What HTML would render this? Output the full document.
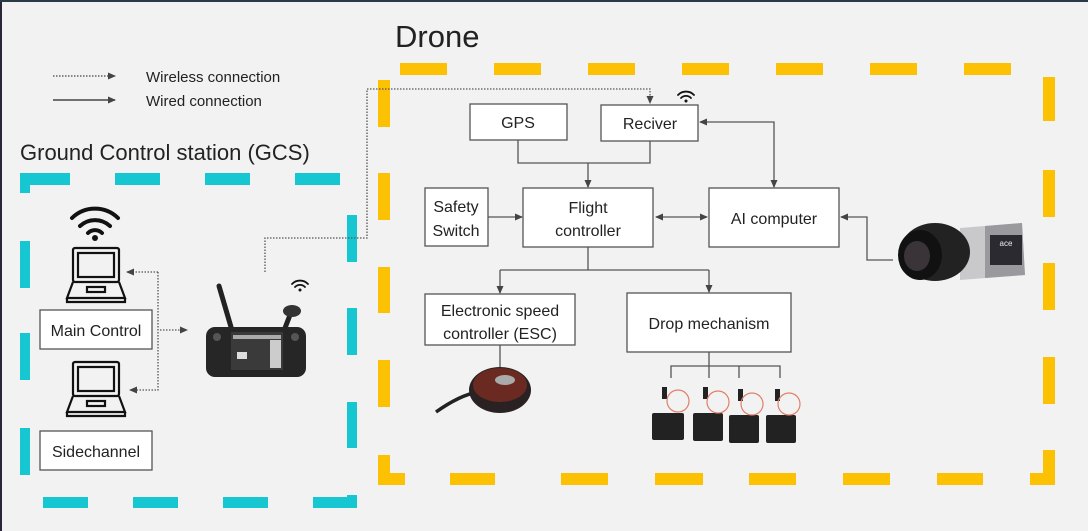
<!DOCTYPE html>
<html><head><meta charset="utf-8"><style>
html,body{margin:0;padding:0;background:#f2f2f2}
svg{display:block}
text{font-family:"Liberation Sans",sans-serif;fill:#222}
</style></head><body>
<svg width="1088" height="531" viewBox="0 0 1088 531" xmlns="http://www.w3.org/2000/svg">
<defs>
<marker id="ah" markerWidth="8" markerHeight="8" refX="7" refY="4" orient="auto" markerUnits="userSpaceOnUse"><path d="M0,0.5 L8,4 L0,7.5 z" fill="#444"/></marker>
<marker id="ahs" markerWidth="8" markerHeight="8" refX="1" refY="4" orient="auto" markerUnits="userSpaceOnUse"><path d="M8,0.5 L0,4 L8,7.5 z" fill="#444"/></marker>
</defs>
<rect x="0" y="0" width="1088" height="531" fill="#f2f2f2"/>
<rect x="0" y="0" width="2" height="531" fill="#2c2438"/>
<rect x="0" y="0" width="1088" height="2" fill="#2c3a48"/>

<!-- titles -->
<text x="395" y="47" font-size="31">Drone</text>
<text x="20" y="160" font-size="22">Ground Control station (GCS)</text>
<!-- legend -->
<line x1="53" y1="76" x2="115" y2="76" stroke="#444" stroke-width="1.3" stroke-dasharray="1.5,1.5" marker-end="url(#ah)"/>
<line x1="53" y1="100" x2="115" y2="100" stroke="#444" stroke-width="1.5" marker-end="url(#ah)"/>
<text x="146" y="82" font-size="15">Wireless connection</text>
<text x="146" y="106" font-size="15">Wired connection</text>

<!-- yellow dashes -->
<g fill="#fbc102">
<rect x="400" y="63" width="47" height="12"/><rect x="494" y="63" width="47" height="12"/><rect x="588" y="63" width="47" height="12"/><rect x="682" y="63" width="47" height="12"/><rect x="776" y="63" width="47" height="12"/><rect x="870" y="63" width="47" height="12"/><rect x="964" y="63" width="47" height="12"/>
<rect x="1043" y="77" width="12" height="44"/><rect x="1043" y="170" width="12" height="47"/><rect x="1043" y="263" width="12" height="47"/><rect x="1043" y="357" width="12" height="47"/><rect x="1043" y="450" width="12" height="35"/><rect x="1030" y="473" width="25" height="12"/>
<rect x="937" y="473" width="46" height="12"/><rect x="843" y="473" width="47" height="12"/><rect x="749" y="473" width="47" height="12"/><rect x="655" y="473" width="48" height="12"/><rect x="561" y="473" width="47" height="12"/><rect x="450" y="473" width="45" height="12"/>
<rect x="378" y="455" width="12" height="30"/><rect x="378" y="473" width="27" height="12"/>
<rect x="378" y="80" width="12" height="47"/><rect x="378" y="173" width="12" height="47"/><rect x="378" y="267" width="12" height="46"/><rect x="378" y="360" width="12" height="47"/>
</g>
<!-- cyan dashes -->
<g fill="#16c6d0">
<rect x="20" y="173" width="50" height="12"/><rect x="20" y="173" width="10" height="20"/><rect x="115" y="173" width="45" height="12"/><rect x="205" y="173" width="45" height="12"/><rect x="295" y="173" width="45" height="12"/>
<rect x="20" y="241" width="10" height="47"/><rect x="20" y="333" width="10" height="47"/><rect x="20" y="428" width="10" height="47"/>
<rect x="43" y="497" width="45" height="11"/><rect x="133" y="497" width="45" height="11"/><rect x="223" y="497" width="45" height="11"/><rect x="313" y="497" width="44" height="11"/>
<rect x="347" y="215" width="10" height="47"/><rect x="347" y="308" width="10" height="47"/><rect x="347" y="402" width="10" height="46"/><rect x="347" y="495" width="10" height="13"/>
</g>

<!-- boxes -->
<g fill="#fff" stroke="#555" stroke-width="1.3">
<rect x="470" y="104" width="97" height="36"/>
<rect x="601" y="105" width="97" height="36"/>
<rect x="425" y="188" width="63" height="58"/>
<rect x="523" y="188" width="130" height="59"/>
<rect x="709" y="188" width="130" height="59"/>
<rect x="425" y="294" width="150" height="51"/>
<rect x="627" y="293" width="164" height="59"/>
<rect x="40" y="310" width="112" height="39"/>
<rect x="40" y="431" width="112" height="39"/>
</g>
<g font-size="16" text-anchor="middle">
<text x="518" y="128">GPS</text>
<text x="650" y="129">Reciver</text>
<text x="456" y="212">Safety</text><text x="456" y="236">Switch</text>
<text x="588" y="213">Flight</text><text x="588" y="236">controller</text>
<text x="774" y="224">AI computer</text>
<text x="500" y="316">Electronic speed</text><text x="500" y="339">controller (ESC)</text>
<text x="709" y="329">Drop mechanism</text>
<text x="96" y="336">Main Control</text>
<text x="96" y="457">Sidechannel</text>
</g>

<!-- wired connectors -->
<g fill="none" stroke="#555" stroke-width="1.3">
<path d="M518,140 V163 H650 V141"/>
<path d="M588,163 V187" marker-end="url(#ah)"/>
<path d="M488,217 H522" marker-end="url(#ah)"/>
<path d="M656,217 H707" marker-start="url(#ahs)" marker-end="url(#ah)"/>
<path d="M700,122 H774 V187" marker-start="url(#ahs)" marker-end="url(#ah)"/>
<path d="M893,260 H867 V217 H841" marker-end="url(#ah)"/>
<path d="M588,247 V270"/>
<path d="M500,270 H709"/>
<path d="M500,270 V293" marker-end="url(#ah)"/>
<path d="M709,270 V292" marker-end="url(#ah)"/>
<path d="M500,345 V372"/>
<path d="M709,352 V378 M671,378 V366 H780 V378 M739,366 V378"/>
</g>
<!-- wireless -->
<g fill="none" stroke="#555" stroke-width="1.3" stroke-dasharray="1.5,1.5">
<path d="M265,272 V238 H367 V89 H650 V103" marker-end="url(#ah)"/>
<path d="M158,272 H127" marker-end="url(#ah)"/>
<path d="M158,272 V390 H130" marker-end="url(#ah)"/>
<path d="M160,330 H187" marker-end="url(#ah)"/>
</g>

<!-- wifi icons -->
<g fill="none" stroke="#111" stroke-linecap="round">
<path d="M72,218 A33,33 0 0 1 118,218" stroke-width="4"/>
<path d="M80,226 A22,22 0 0 1 110,226" stroke-width="4"/>
<path d="M88,233 A10,10 0 0 1 102,233" stroke-width="4"/>
<path d="M678,95 A11,11 0 0 1 694,95" stroke-width="1.8"/>
<path d="M681,98 A7,7 0 0 1 691,98" stroke-width="1.8"/>
<path d="M292,284 A11,11 0 0 1 308,284" stroke-width="1.8"/>
<path d="M295,287 A7,7 0 0 1 305,287" stroke-width="1.8"/>
</g>
<circle cx="95" cy="238" r="3" fill="#111"/>
<circle cx="686" cy="101" r="1.5" fill="#111"/><circle cx="300" cy="290" r="1.5" fill="#111"/>

<!-- laptops -->
<g fill="none" stroke="#111" stroke-width="2.2">
<rect x="73" y="248" width="46" height="34" rx="2"/><rect x="78" y="253" width="36" height="24"/>
<path d="M73,282 L67,298 L125,298 L119,282"/><path d="M67,298 V302 H125 V298"/><rect x="87" y="287" width="18" height="5"/>
<rect x="73" y="362" width="46" height="34" rx="2"/><rect x="78" y="367" width="36" height="24"/>
<path d="M73,396 L67,412 L125,412 L119,396"/><path d="M67,412 V416 H125 V412"/><rect x="87" y="401" width="18" height="5"/>
</g>

<!-- controller -->
<g>
<path d="M219,286 L231,327" stroke="#222" stroke-width="5" stroke-linecap="round"/>
<path d="M290,315 L285,328" stroke="#222" stroke-width="5"/>
<ellipse cx="292" cy="311" rx="9" ry="6" fill="#333"/>
<rect x="206" y="327" width="100" height="50" rx="9" fill="#262626"/>
<rect x="231" y="332" width="52" height="38" fill="#3a3a3a"/>
<rect x="233" y="335" width="48" height="4" fill="#aaa"/>
<rect x="270" y="340" width="11" height="28" fill="#ccc"/>
<rect x="237" y="352" width="10" height="7" fill="#ddd"/>
<circle cx="217" cy="337" r="4" fill="#555"/><circle cx="295" cy="337" r="4" fill="#555"/>
</g>

<!-- camera -->
<g>
<path d="M960,228 L1022,223 L1025,275 L960,280 z" fill="#c9c9cc"/>
<path d="M985,226 L1022,223 L1025,275 L985,278 z" fill="#9a9a9e"/>
<rect x="990" y="235" width="32" height="30" fill="#2a2a30"/>
<text x="1006" y="246" font-size="8" fill="#eee" style="fill:#eee" text-anchor="middle">ace</text>
<ellipse cx="935" cy="252" rx="35" ry="29" fill="#222"/>
<ellipse cx="920" cy="255" rx="22" ry="25" fill="#111"/>
<ellipse cx="917" cy="256" rx="13" ry="15" fill="#3a3438"/>
</g>

<!-- motor -->
<g>
<path d="M436,412 Q460,395 478,392" stroke="#222" stroke-width="3.5" fill="none"/>
<ellipse cx="500" cy="390" rx="31" ry="23" fill="#2a2222"/>
<ellipse cx="500" cy="385" rx="27" ry="17" fill="#6a2a22"/>
<ellipse cx="505" cy="380" rx="10" ry="5" fill="#aaa"/>
</g>

<!-- servos -->
<g>
<g fill="#222">
<rect x="652" y="413" width="32" height="27" rx="2"/>
<rect x="693" y="413" width="30" height="28" rx="2"/>
<rect x="729" y="415" width="30" height="28" rx="2"/>
<rect x="766" y="415" width="30" height="28" rx="2"/>
<rect x="662" y="387" width="5" height="12"/><rect x="703" y="387" width="5" height="12"/><rect x="738" y="389" width="5" height="12"/><rect x="775" y="389" width="5" height="12"/>
</g>
<g fill="none" stroke="#e0806a" stroke-width="1.2">
<circle cx="678" cy="401" r="11"/><circle cx="718" cy="402" r="11"/><circle cx="752" cy="404" r="11"/><circle cx="789" cy="404" r="11"/>
</g>
</g>
</svg>
</body></html>
